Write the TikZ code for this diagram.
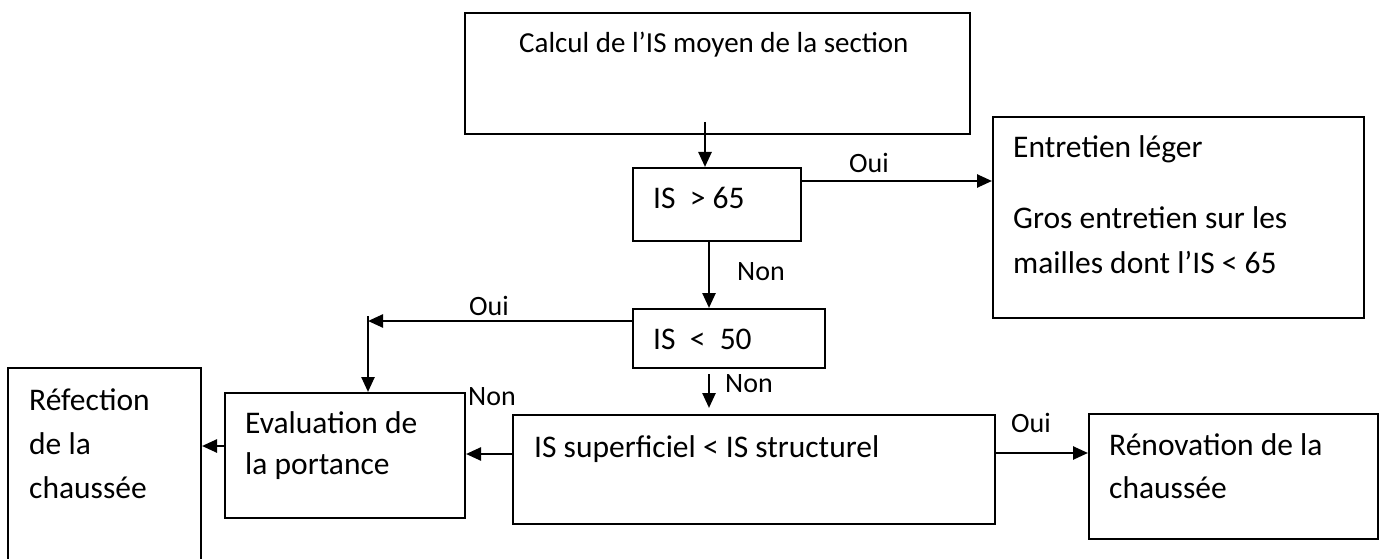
\documentclass[tikz,border=0pt]{standalone}
\usepackage{fontspec}
\setmainfont{Carlito}
\usetikzlibrary{%
    arrows.meta,
    calc,
    positioning
}
\tikzset{box/.style = {draw, line width=2pt, inner sep=0pt, anchor=north west}}
\tikzset{boxtext/.style = {inner sep=0pt, anchor=base west, align=left,
    font=\fontsize{31.5}{44}\selectfont}}
\tikzset{answer/.style = {boxtext, font=\fontsize{28}{34}\selectfont}}
\tikzset{headarrow/.style = {line width=2.5pt, -{Triangle[length=15pt,width=13pt]}}}

\begin{document}
\begin{tikzpicture}[x=1pt,y=-1pt]
    \clip (0,0) rectangle (1382,559);

    % boxes
    \node[box,minimum width=505pt,minimum height=121pt] (calc) at (464,12) {};
    \node[box,minimum width=168pt,minimum height=73pt] (is65) at (632,167) {};
    \node[box,minimum width=371pt,minimum height=201pt] (entretien) at (992,116) {};
    \node[box,minimum width=192pt,minimum height=59pt] (is50) at (632,308) {};
    \node[box,minimum width=482pt,minimum height=109pt] (sup) at (512,414) {};
    \node[box,minimum width=289pt,minimum height=125pt] (renov) at (1088,413) {};
    \node[box,minimum width=240pt,minimum height=125pt] (eval) at (224,392) {};
    \node[box,minimum width=193pt,minimum height=240pt] (refect) at (7,367) {};

    % texts inside the boxes (anchored on their last line)
    \node[boxtext,font=\fontsize{29}{40}\selectfont] (calc-t) at (519,53)
        {Calcul de l’IS moyen de la section};
    \node[boxtext] (is65-t) at (653,208) {IS\ \ > 65};
    \node[boxtext,font=\fontsize{31.5}{45}\selectfont] (entretien-t) at (1013,273)
        {Entretien léger\\[26pt]Gros entretien sur les\\mailles dont l’IS < 65};
    \node[boxtext] (is50-t) at (653,349) {IS\ \ <\ \ 50};
    \node[boxtext] (sup-t) at (534,457) {IS superficiel < IS structurel};
    \node[boxtext,font=\fontsize{31.5}{43}\selectfont] (renov-t) at (1109,498)
        {Rénovation de la\\chaussée};
    \node[boxtext,font=\fontsize{31.5}{41}\selectfont] (eval-t) at (245,474)
        {Evaluation de\\la portance};
    \node[boxtext,font=\fontsize{31.5}{44}\selectfont] (refect-t) at (29,498)
        {Réfection\\de la\\chaussée};

    % answers
    \foreach \n/\x/\y/\t in {%
        oui-a/849/173/Oui,
        non-a/737/280/Non,
        oui-b/469/315/Oui,
        non-b/725/392/Non,
        non-c/468/405/Non,
        oui-c/1011/432/Oui%
        }
        \node[answer] (\n) at (\x,\y) {\t};

    % arrows
    \coordinate (start) at (705,122);
    \coordinate (split) at (368,321);
    \draw[headarrow] (start) -- (start |- is65.north);
    \draw[headarrow] ([yshift=-14pt]is65.north east) -- ([yshift=-14pt]is65.north east -| entretien.west);
    \draw[headarrow] ([xshift=-8pt]is65.south) -- ([xshift=-8pt]is65.south |- is50.north);
    \draw[headarrow] ([yshift=-13pt]is50.north west) -- (split);
    \draw[headarrow] ([yshift=5pt]split) -- (split |- eval.north);
    \draw[headarrow] ([xshift=-20pt,yshift=-5pt]is50.south) coordinate (low)
        -- ([yshift=6pt]sup.north -| low);
    \draw[headarrow] ([yshift=-40pt]sup.north west) -- ([yshift=-40pt]sup.north west -| eval.east);
    \draw[headarrow] ([yshift=-39pt]sup.north east) -- ([yshift=-39pt]sup.north east -| renov.west);
    \draw[headarrow] ([yshift=-54pt]eval.north west) -- ([yshift=-54pt]eval.north west -| refect.east);
\end{tikzpicture}
\end{document}
